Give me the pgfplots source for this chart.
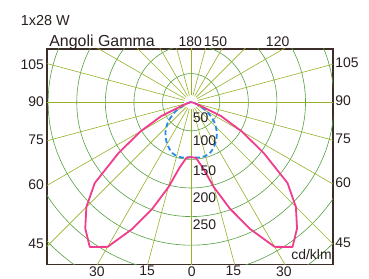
\documentclass[border=0pt]{standalone}
\usepackage{pgfplots}
\pgfplotsset{compat=1.18}
\usepackage{pgfplotstable}
\usepackage{fontspec}
\setmainfont{Liberation Sans}
\definecolor{ringc}{RGB}{85,160,65}
\definecolor{spokec}{RGB}{150,178,40}
\definecolor{pinkc}{RGB}{240,60,140}
\definecolor{bluec}{RGB}{40,140,230}
\definecolor{framec}{RGB}{60,45,40}
\definecolor{txtc}{RGB}{40,30,30}

% C0-C180 plane (gamma, cd/klm)
\pgfplotstableread{
g I
-90 0
-85 1
-80 2
-75 5
-70 14
-65 58
-60 102
-55 155
-50 220
-45 259
-40 288
-35 309
-30 292
-25 245
-20 198
-15 154
-10 116
-5 98
0 96
5 98
10 116
15 154
20 198
25 245
30 292
35 309
40 288
45 259
50 220
55 155
60 102
65 58
70 14
75 5
80 2
85 1
90 0
}\pinkdata

% C90-C270 plane (gamma, cd/klm)
\pgfplotstableread{
g I
-90 0
-80 3
-70 12
-60 31
-50 52
-40 70
-30 84
-20 95
-10 98
0 96
10 98
20 95
30 84
40 70
50 52
60 31
70 12
80 3
90 0
}\bluedata

\begin{document}
\begin{tikzpicture}[font=\fontsize{14}{16}\selectfont, every node/.append style={text=txtc}]
\begin{axis}[name=ax, x=0.572bp, y=0.572bp,
  xmin=-252, xmax=248, ymin=-283, ymax=93,
  axis line style={framec, line width=1.1bp},
  xtick=\empty, ytick=\empty, clip=true,
  after end axis/.code={
    \node[anchor=base west, inner sep=0pt, font=\fontsize{14.5}{16}\selectfont] at (axis cs:-298,134.6) {1x28 W};
    \node[anchor=base west, inner sep=0pt, font=\fontsize{16}{18}\selectfont] at (axis cs:-248.3,97.5) {Angoli Gamma};
    \node[anchor=base, inner sep=0pt] at (axis cs:-1.7,97.9) {180};
    \node[anchor=base, inner sep=0pt] at (axis cs:42.8,97.9) {150};
    \node[anchor=base, inner sep=0pt] at (axis cs:151.2,97.9) {120};
    \node[anchor=east, inner sep=0pt] at (axis cs:-257,66.4) {105};
    \node[anchor=east, inner sep=0pt] at (axis cs:-257,0) {90};
    \node[anchor=east, inner sep=0pt] at (axis cs:-257,-66.4) {75};
    \node[anchor=east, inner sep=0pt] at (axis cs:-257,-143.4) {60};
    \node[anchor=east, inner sep=0pt] at (axis cs:-257,-248.3) {45};
    \node[anchor=west, inner sep=0pt] at (axis cs:251.7,68.5) {105};
    \node[anchor=west, inner sep=0pt] at (axis cs:251.7,2.5) {90};
    \node[anchor=west, inner sep=0pt] at (axis cs:251.7,-63.5) {75};
    \node[anchor=west, inner sep=0pt] at (axis cs:251.7,-140.5) {60};
    \node[anchor=west, inner sep=0pt] at (axis cs:251.7,-245.5) {45};
    \node[anchor=north, inner sep=0pt] at (axis cs:-165,-286.7) {30};
    \node[anchor=north, inner sep=0pt] at (axis cs:-77,-286.7) {15};
    \node[anchor=north, inner sep=0pt] at (axis cs:1,-286.7) {0};
    \node[anchor=north, inner sep=0pt] at (axis cs:74,-286.7) {15};
    \node[anchor=north, inner sep=0pt] at (axis cs:162,-286.7) {30};
  }]
  % polar grid
  \pgfplotsinvokeforeach{50,100,150,200,250,300,350,400}{
    \draw[ringc, line width=0.6bp] (axis cs:0,0) circle[radius=#1];
  }
  \pgfplotsinvokeforeach{0,15,30,45,60,75,90,105,120,135,150,165,180,195,210,225,240,255,270,285,300,315,330,345}{
    \draw[spokec, line width=0.6bp] (axis cs:{12*cos(#1)},{12*sin(#1)}) -- (axis cs:{600*cos(#1)},{600*sin(#1)});
  }
  % curves
  \addplot[bluec, line width=1.8bp, dash pattern=on 5bp off 3bp, smooth, tension=0.5]
    table[x expr={\thisrow{I}*sin(\thisrow{g})}, y expr={-\thisrow{I}*cos(\thisrow{g})}] {\bluedata};
  \addplot[pinkc, line width=1.8bp, line join=round]
    table[x expr={\thisrow{I}*sin(\thisrow{g})}, y expr={-\thisrow{I}*cos(\thisrow{g})}] {\pinkdata};
  % ring labels
  \node[anchor=west, inner sep=0pt] at (axis cs:2.5,-26.6) {50};
  \node[anchor=west, inner sep=0pt] at (axis cs:2.5,-67.3) {100};
  \node[anchor=west, inner sep=0pt] at (axis cs:2.5,-118.9) {150};
  \node[anchor=west, inner sep=0pt] at (axis cs:2.5,-167.8) {200};
  \node[anchor=west, inner sep=0pt] at (axis cs:2.5,-215) {250};
  \node[anchor=base east, inner sep=0pt] at (axis cs:246,-275) {cd/klm};
\end{axis}
\pgfresetboundingbox
\path[use as bounding box] ([shift={(-47bp,-14bp)}]ax.south west) rectangle ([shift={(36bp,49bp)}]ax.north east);
\end{tikzpicture}
\end{document}
